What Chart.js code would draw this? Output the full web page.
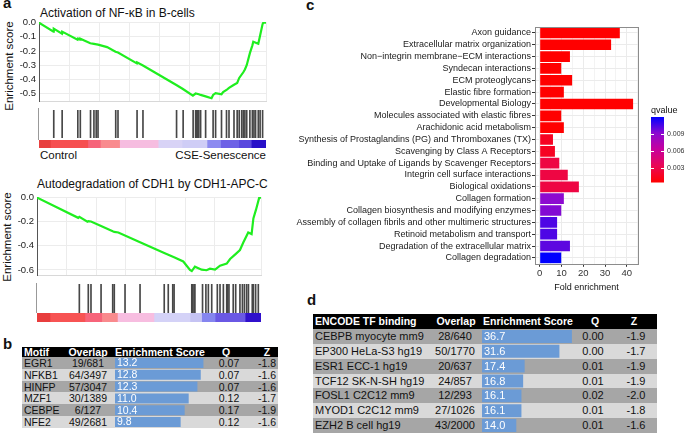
<!DOCTYPE html>
<html>
<head>
<meta charset="utf-8">
<script src="https://cdn.jsdelivr.net/npm/chart.js@4.4.0/dist/chart.umd.min.js"></script>
<style>
body { margin: 0; width: 685px; height: 441px; position: relative; overflow: hidden; background: #fff;
       font-family: "Liberation Sans", Arial, sans-serif; color: #111; }
canvas { position: absolute; }
.t { position: absolute; white-space: nowrap; line-height: 1; }
.cell { position: absolute; white-space: nowrap; }
.letter { position: absolute; font-weight: bold; font-size: 15px; line-height: 1; }
.edge { position: absolute; width: 1px; background: #999; }
</style>
</head>
<body>

<div class="letter" style="left:3px;top:-5px">a</div>
<div class="letter" style="left:3px;top:336px">b</div>
<div class="letter" style="left:306px;top:-3px">c</div>
<div class="letter" style="left:307px;top:292px">d</div>

<div class="t" style="left:40px;top:7px;font-size:12px">Activation of NF-κB in B-cells</div>
<div class="t" style="left:10px;top:66px;font-size:11.5px;transform:translate(-50%,-50%) rotate(-90deg)">Enrichment score</div>
<div class="t" style="left:40px;top:150px;font-size:11.5px">Control</div>
<div class="t" style="left:175px;top:150px;width:91px;text-align:right;font-size:11.5px">CSE-Senescence</div>

<div class="t" style="left:37px;top:178px;font-size:12px">Autodegradation of CDH1 by CDH1-APC-C</div>
<div class="t" style="left:8px;top:237px;font-size:11.5px;transform:translate(-50%,-50%) rotate(-90deg)">Enrichment score</div>

<canvas id="es1" width="272" height="98" style="left:0;top:12px"></canvas>
<canvas id="hits1" width="272" height="31" style="left:0;top:109px"></canvas>
<canvas id="band1" width="272" height="8" style="left:0;top:140px"></canvas>
<div class="edge" style="left:38px;top:108px;height:32px"></div>

<canvas id="es2" width="268" height="98" style="left:0;top:186px"></canvas>
<canvas id="hits2" width="268" height="29" style="left:0;top:284px"></canvas>
<canvas id="band2" width="268" height="9" style="left:0;top:313px"></canvas>
<div class="edge" style="left:36px;top:283px;height:30px"></div>

<canvas id="pathChart" width="395" height="282" style="left:290px;top:15px"></canvas>

<script>
// ---- a: running enrichment score, x = position in the ranked gene list (%)
const esPos1 = [0, 6.4, 6.5, 10.1, 10.2, 17.0, 17.2, 18.1, 18.2, 22.6, 24.2, 26.0, 30.0, 33.7, 34.8,
  43.1, 43.2, 45.8, 60.5, 63.4, 67.8, 69.0, 70.4, 71.2, 73.4, 76.0, 76.7, 77.8, 80.4, 81.1, 82.6,
  83.7, 85.9, 87.3, 88.2, 90.0, 90.7, 91.5, 92.9, 94.0, 94.4, 96.6, 97.4, 98.5, 98.8, 100];
const esScore1 = [0, -0.063, -0.042, -0.078, -0.063, -0.12, -0.112, -0.12, -0.113, -0.145, -0.15, -0.155, -0.172, -0.205, -0.21,
  -0.287, -0.28, -0.302, -0.44, -0.468, -0.515, -0.50, -0.505, -0.51, -0.52, -0.533, -0.51, -0.497, -0.505, -0.49, -0.475,
  -0.46, -0.438, -0.425, -0.39, -0.35, -0.33, -0.30, -0.215, -0.16, -0.135, -0.148, -0.09, -0.01, 0, 0];
const hits1 = [6.5, 10.2, 17.1, 18.2, 22.7, 24.2, 25.2, 26.0, 33.8, 34.8, 43.2, 45.8, 60.6, 63.5, 67.9,
  69.0, 69.4, 69.8, 70.4, 71.2, 73.4, 76.7, 77.8, 80.4, 82.6, 83.7, 85.9, 87.3, 88.2, 89.3, 90.0,
  90.7, 91.5, 92.9, 94.0, 94.7, 95.4, 96.6, 97.4, 98.5];

const esPos2 = [0, 18.4, 18.9, 22.5, 22.9, 24.1, 28.6, 33.8, 34.5, 36.3, 46.0, 56.8, 61.2, 65.3, 68.3, 69.1,
  70.5, 73.5, 75.7, 77.2, 79.5, 81.7, 84.7, 86.2, 88.4, 90.6, 92.1, 94.3, 95.8, 96.6, 97.8, 99.2, 100];
const esScore2 = [0, -0.168, -0.16, -0.2, -0.195, -0.198, -0.235, -0.28, -0.285, -0.29, -0.37, -0.46, -0.495, -0.53, -0.6, -0.61,
  -0.573, -0.598, -0.603, -0.59, -0.598, -0.565, -0.548, -0.51, -0.473, -0.435, -0.373, -0.29, -0.303, -0.173, -0.098, 0, 0];
const hits2 = [18.9, 22.9, 24.1, 28.6, 33.8, 34.5, 39.3, 46.0, 56.8, 58.6, 60.6, 61.2, 69.1, 69.5, 70.1,
  70.5, 73.9, 75.4, 76.5, 78.0, 80.5, 81.7, 83.2, 84.7, 85.1, 85.7, 87.6, 88.7, 90.6, 91.7, 92.6,
  93.6, 94.4, 96.1, 96.6, 97.6, 98.8];

// ranked-list colour strips
const band1Edges = [0, 5, 21.5, 27, 35.5, 52.5, 63, 74, 80, 88, 93.5, 100];
const band1Colors = ['#e8403f', '#f64f50', '#f6647a', '#f98b8e', '#f6bde0', '#d8d3f6', '#cfcdf6', '#8c8af0', '#6e62e6', '#5a48de', '#2810c8'];
const band2Edges = [0, 5.8, 21.4, 28.9, 35.9, 52.2, 68.3, 73.5, 79.5, 92.9, 100];
const band2Colors = ['#e83d3d', '#f75353', '#f7647a', '#f98a8d', '#f7bde0', '#d4d2f7', '#c5c3f3', '#8585ef', '#6a58e4', '#3010cc'];

// ---- b: motif enrichment
const motifs = ['EGR1', 'NFKB1', 'HINFP', 'MZF1', 'CEBPE', 'NFE2'];
const motifOverlap = ['19/681', '64/3497', '57/3047', '30/1389', '6/127', '49/2681'];
const motifScore = [13.2, 12.8, 12.3, 11.0, 10.4, 9.8];
const motifQ = [0.07, 0.07, 0.07, 0.12, 0.17, 0.12];
const motifZ = [-1.8, -1.6, -1.6, -1.7, -1.9, -1.6];

// ---- c: Reactome pathways
const pathways = ['Axon guidance', 'Extracellular matrix organization', 'Non\u2212integrin membrane\u2212ECM interactions',
  'Syndecan interactions', 'ECM proteoglycans', 'Elastic fibre formation', 'Developmental Biology',
  'Molecules associated with elastic fibres', 'Arachidonic acid metabolism',
  'Synthesis of Prostaglandins (PG) and Thromboxanes (TX)', 'Scavenging by Class A Receptors',
  'Binding and Uptake of Ligands by Scavenger Receptors', 'Integrin cell surface interactions',
  'Biological oxidations', 'Collagen formation', 'Collagen biosynthesis and modifying enzymes',
  'Assembly of collagen fibrils and other multimeric structures', 'Retinoid metabolism and transport',
  'Degradation of the extracellular matrix', 'Collagen degradation'];
const foldEnrichment = [36.8, 32.8, 13.9, 9.9, 14.9, 11.1, 42.9, 9.9, 11.1, 6.1, 7.0, 9.0, 12.9, 18.0, 11.1, 9.9, 8.0, 8.0, 13.9, 9.9];
const qvalues = [0.0004, 0.0004, 0.0004, 0.0004, 0.0004, 0.0004, 0.0004, 0.0004, 0.0004, 0.0016, 0.0016,
  0.0027, 0.0027, 0.0027, 0.0090, 0.0092, 0.0103, 0.0103, 0.0100, 0.0119];
const qTicks = [0.003, 0.006, 0.009];

// ---- d: ENCODE TF binding
const tfNames = ['CEBPB myocyte mm9', 'EP300 HeLa-S3 hg19', 'ESR1 ECC-1 hg19', 'TCF12 SK-N-SH hg19', 'FOSL1 C2C12 mm9', 'MYOD1 C2C12 mm9', 'EZH2 B cell hg19'];
const tfOverlap = ['28/640', '50/1770', '20/637', '24/857', '12/293', '27/1026', '43/2000'];
const tfScore = [36.7, 31.6, 17.4, 16.8, 16.1, 16.1, 14.0];
const tfQ = [0.00, 0.00, 0.01, 0.01, 0.02, 0.01, 0.01];
const tfZ = [-1.9, -1.7, -1.9, -1.9, -2.0, -1.8, -1.6];

Chart.defaults.font.family = '"Liberation Sans", Arial, sans-serif';
Chart.defaults.animation = false;
Chart.defaults.responsive = false;
Chart.defaults.plugins.legend.display = false;
Chart.defaults.plugins.tooltip.enabled = false;

const GRID_STEP = 13.24;

function esChart(id, xs, ys, yMin, axisW, pad) {
  new Chart(document.getElementById(id), {
    type: 'line',
    data: { datasets: [{ data: xs.map((x, i) => ({ x: x, y: ys[i] })), borderColor: '#1fee1f', borderWidth: 2.2, pointRadius: 0, tension: 0 }] },
    options: {
      layout: { padding: pad },
      scales: {
        x: { type: 'linear', min: 0, max: 100, ticks: { display: false, stepSize: GRID_STEP }, grid: { color: '#ececec', drawTicks: false }, border: { color: '#d8d8d8' } },
        y: { min: yMin, max: 0.005,
          ticks: { stepSize: 0.1, includeBounds: false, font: { size: 9.5 }, color: '#222', padding: 3, callback: v => v.toFixed(1) },
          grid: { color: '#ececec', drawTicks: false }, border: { color: '#555' },
          afterFit: s => { s.width = axisW; } }
      }
    }
  });
}

// each gene-set member is a thin floating bar spanning the hit strip
function hitChart(id, hits, pad) {
  new Chart(document.getElementById(id), {
    type: 'bar',
    data: { datasets: [{ data: hits.map(h => ({ x: h, y: [0, 1] })), backgroundColor: '#474747', borderWidth: 0, barThickness: 1 }] },
    options: {
      layout: { padding: pad },
      scales: {
        x: { type: 'linear', min: 0, max: 100, offset: false, display: false },
        y: { min: 0, max: 1, display: false }
      }
    }
  });
}

function bandChart(id, edges, colors, pad) {
  // each segment is a bar from 0 to its right edge; earlier segments are drawn on top
  new Chart(document.getElementById(id), {
    type: 'bar',
    data: { labels: ['rank'], datasets: colors.map((c, i) => ({ data: [edges[i + 1]], backgroundColor: c, borderWidth: 0, grouped: false, barPercentage: 1, categoryPercentage: 1 })) },
    options: {
      indexAxis: 'y',
      layout: { padding: pad },
      scales: { x: { min: 0, max: 100, display: false }, y: { display: false } }
    }
  });
}

esChart('es1', esPos1, esScore1, -0.555, 39, { top: 10, right: 6, bottom: 2, left: 0 });
hitChart('hits1', hits1, { top: 1, right: 6, bottom: 2, left: 39 });
bandChart('band1', band1Edges, band1Colors, { top: 0, right: 6, bottom: 0, left: 39 });

esChart('es2', esPos2, esScore2, -0.645, 37, { top: 11, right: 7, bottom: 1, left: 0 });
hitChart('hits2', hits2, { top: 0, right: 7, bottom: 0, left: 37 });
bandChart('band2', band2Edges, band2Colors, { top: 0, right: 7, bottom: 0, left: 37 });

// ---- tables (b, d)
function cell(text, style) {
  const d = document.createElement('div');
  d.className = 'cell';
  d.textContent = text;
  Object.assign(d.style, style);
  document.body.appendChild(d);
  return d;
}

function barLabels(size) {
  return {
    id: 'barLabels',
    afterDatasetsDraw(chart) {
      const ctx = chart.ctx;
      const vals = chart.data.datasets[0].data;
      ctx.save();
      ctx.fillStyle = '#fff';
      ctx.font = size + 'px "Liberation Sans", Arial, sans-serif';
      ctx.textBaseline = 'middle';
      chart.getDatasetMeta(0).data.forEach((bar, i) => ctx.fillText(vals[i].toFixed(1), bar.base + 2, bar.y + 0.5));
      ctx.restore();
    }
  };
}

function buildTable(t) {
  const px = v => v + 'px';
  cell('', { left: px(t.left), top: px(t.top), width: px(t.width), height: px(t.headH), background: '#000' });
  const head = { top: px(t.top), height: px(t.headH), lineHeight: px(t.headH), color: '#fff', fontWeight: 'bold', fontSize: px(t.headFont) };
  t.headers.forEach((h, j) => {
    const col = t.cols[j];
    const s = Object.assign({}, head);
    if (col.align === 'left') { s.left = px(col.x); } else { s.left = px(col.x - 40); s.width = '80px'; s.textAlign = 'center'; }
    cell(h, s);
  });
  t.rows.forEach((r, i) => {
    const top = t.top + t.headH + i * t.rowH;
    cell('', { left: px(t.left), top: px(top), width: px(t.width), height: px(t.rowH), background: i % 2 === 0 ? '#a6a6a6' : '#d9d9d9' });
    r.forEach((v, j) => {
      const col = t.rowCols[j];
      const s = { top: px(top), height: px(t.rowH), lineHeight: px(t.rowH + 1), fontSize: px(t.rowFont), color: '#111' };
      if (col.align === 'left') { s.left = px(col.x); } else { s.left = px(col.x - 40); s.width = '80px'; s.textAlign = 'center'; }
      cell(v, s);
    });
  });
  const cv = document.createElement('canvas');
  cv.width = t.barW;
  cv.height = Math.round(t.rows.length * t.rowH);
  cv.style.left = px(t.barX);
  cv.style.top = px(t.top + t.headH);
  document.body.appendChild(cv);
  new Chart(cv, {
    type: 'bar',
    data: { labels: t.rows.map(r => r[0]), datasets: [{ data: t.scores, backgroundColor: '#6b9bd6', borderWidth: 0, barPercentage: t.barPct, categoryPercentage: 1 }] },
    options: {
      indexAxis: 'y',
      scales: { x: { min: 0, max: t.barMax, display: false }, y: { display: false } }
    },
    plugins: [barLabels(t.rowFont)]
  });
}

buildTable({
  left: 22, top: 347, width: 256, headH: 10, rowH: 11.8, headFont: 10.5, rowFont: 10.5,
  headers: ['Motif', 'Overlap', 'Enrichment Score', 'Q', 'Z'],
  cols: [{ x: 24, align: 'left' }, { x: 88 }, { x: 115, align: 'left' }, { x: 226 }, { x: 267 }],
  rowCols: [{ x: 24, align: 'left' }, { x: 88 }, { x: 229 }, { x: 267 }],
  rows: motifs.map((m, i) => [m, motifOverlap[i], motifQ[i].toFixed(2), motifZ[i].toFixed(1)]),
  scores: motifScore, barX: 115, barW: 110, barMax: 16.42, barPct: 0.85
});

buildTable({
  left: 313, top: 314, width: 344, headH: 15, rowH: 14.85, headFont: 10.5, rowFont: 11,
  headers: ['ENCODE TF binding', 'Overlap', 'Enrichment Score', 'Q', 'Z'],
  cols: [{ x: 315, align: 'left' }, { x: 456 }, { x: 483, align: 'left' }, { x: 595 }, { x: 634 }],
  rowCols: [{ x: 315, align: 'left' }, { x: 455 }, { x: 593 }, { x: 636 }],
  rows: tfNames.map((n, i) => [n, tfOverlap[i], tfQ[i].toFixed(2), tfZ[i].toFixed(1)]),
  scores: tfScore, barX: 482, barW: 110, barMax: 44.9, barPct: 0.87
});

// ---- c: fold enrichment bars coloured by q value
const qMin = Math.min(...qvalues), qMax = Math.max(...qvalues);
const qStops = [[0, [255, 0, 0]], [0.25, [234, 8, 84]], [0.5, [200, 0, 156]], [0.75, [140, 10, 208]], [1, [0, 0, 255]]];
function qColor(q) {
  const t = Math.min(1, Math.max(0, (q - qMin) / (qMax - qMin)));
  for (let k = 1; k < qStops.length; k++) {
    if (t <= qStops[k][0]) {
      const a = qStops[k - 1], b = qStops[k];
      const f = (t - a[0]) / (b[0] - a[0]);
      const c = a[1].map((v, n) => Math.round(v + (b[1][n] - v) * f));
      return 'rgb(' + c.join(',') + ')';
    }
  }
  return 'rgb(0,0,255)';
}

const panelFrame = {
  id: 'panelFrame',
  afterDatasetsDraw(chart) {
    const a = chart.chartArea, ctx = chart.ctx;
    ctx.save();
    ctx.strokeStyle = '#8c8c8c';
    ctx.lineWidth = 1;
    ctx.strokeRect(Math.round(a.left) + 0.5, Math.round(a.top) + 0.5, Math.round(a.right - a.left), Math.round(a.bottom - a.top));
    ctx.restore();
  }
};

const qLegend = {
  id: 'qLegend',
  afterDraw(chart) {
    const ctx = chart.ctx;
    const x = 361, w = 13, top = 102, h = 65.5;
    ctx.save();
    ctx.fillStyle = '#111';
    ctx.font = '9px "Liberation Sans", Arial, sans-serif';
    ctx.textBaseline = 'alphabetic';
    ctx.fillText('qvalue', x, 98);
    const g = ctx.createLinearGradient(0, top + h, 0, top);
    qStops.forEach(s => g.addColorStop(s[0], 'rgb(' + s[1].join(',') + ')'));
    ctx.fillStyle = g;
    ctx.fillRect(x, top, w, h);
    ctx.strokeStyle = '#fff';
    ctx.lineWidth = 1;
    ctx.fillStyle = '#333';
    ctx.font = '7px "Liberation Sans", Arial, sans-serif';
    ctx.textBaseline = 'middle';
    qTicks.forEach(q => {
      const y = Math.round(top + h - (q - qMin) / (qMax - qMin) * h) + 0.5;
      ctx.beginPath();
      ctx.moveTo(x, y); ctx.lineTo(x + 3, y);
      ctx.moveTo(x + w - 3, y); ctx.lineTo(x + w, y);
      ctx.stroke();
      ctx.fillText(q.toFixed(3), x + w + 3, y);
    });
    ctx.restore();
  }
};

new Chart(document.getElementById('pathChart'), {
  type: 'bar',
  data: {
    labels: pathways,
    datasets: [{ data: foldEnrichment, backgroundColor: qvalues.map(qColor), borderWidth: 0, barPercentage: 0.9, categoryPercentage: 1 }]
  },
  options: {
    indexAxis: 'y',
    layout: { padding: { top: 12, right: 47, bottom: 4, left: 0 } },
    scales: {
      x: {
        min: -2.15, max: 45.15,
        ticks: { stepSize: 5, includeBounds: false, autoSkip: false, maxRotation: 0, font: { size: 9.5 }, color: '#333', padding: 1,
          callback: v => (v % 10 === 0 ? String(v) : '') },
        grid: { color: '#ebebeb', lineWidth: c => (c.tick && c.tick.value % 10 === 0 ? 1 : 0.6),
          tickColor: c => (c.tick && c.tick.value % 10 === 0 ? '#333' : 'rgba(0,0,0,0)'), tickLength: 3 },
        border: { display: false },
        title: { display: true, text: 'Fold enrichment', font: { size: 9 }, color: '#111', padding: { top: 2, bottom: 0 } }
      },
      y: {
        ticks: { font: { size: 9 }, color: '#1a1a1a', padding: 1, autoSkip: false },
        grid: { color: '#ebebeb', offset: false, tickColor: '#333', tickLength: 3 },
        border: { display: false },
        afterFit: s => { s.width = 245; }
      }
    }
  },
  plugins: [panelFrame, qLegend]
});
</script>
</body>
</html>
